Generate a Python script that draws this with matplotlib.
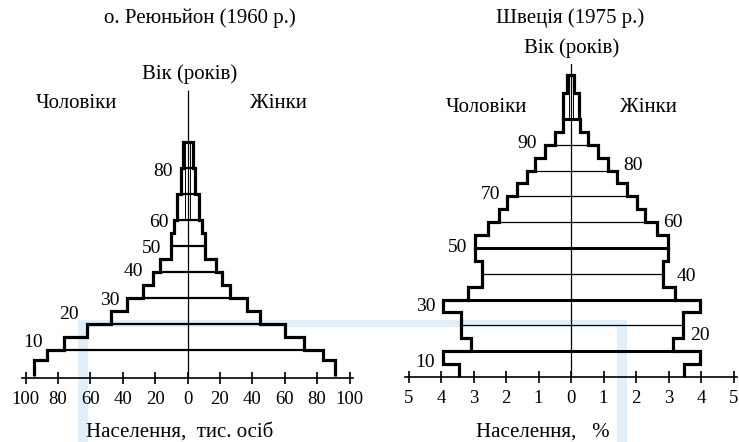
import matplotlib.pyplot as plt
import numpy as np
from matplotlib.patches import Rectangle

plt.rcParams['font.family'] = ['Liberation Serif', 'DejaVu Serif']

# o. Reunion 1960, thousands of people per age group
reu_edges = [0, 6, 10, 15, 20, 25, 30, 35, 40, 45, 50, 55, 60, 70, 80, 90]
reu_men = [95, 87, 76, 62, 47, 37.5, 27.6, 21.6, 16.8, 10.2, 10.2, 8.5, 6.4, 4.0, 3.0]
reu_women = [91, 83.5, 72, 60, 45, 36.6, 26, 21, 17.5, 11, 11, 8.8, 6.9, 4.5, 3.3]
reu_ticks = [-100, -80, -60, -40, -20, 0, 20, 40, 60, 80, 100]
reu_decades = [10, 20, 30, 40, 50, 60, 70, 80]
reu_age_labels = ['10', '20', '30', '40', '50', '60', '80']

# Sweden 1975, percent per age group
swe_edges = [0, 5, 10, 15, 20, 25, 30, 35, 40, 45, 50, 55, 60, 65, 70, 75, 80,
             85, 90, 95, 100, 110, 117]
swe_men = [3.45, 3.95, 3.08, 3.38, 3.38, 3.95, 3.17, 2.74, 2.74, 2.95, 2.95,
           2.55, 2.22, 1.97, 1.66, 1.36, 1.1, 0.8, 0.5, 0.26, 0.24, 0.13]
swe_women = [3.48, 3.97, 3.14, 3.45, 3.45, 3.97, 3.2, 2.83, 2.83, 2.98, 2.98,
             2.64, 2.28, 2.03, 1.73, 1.41, 1.15, 0.82, 0.52, 0.28, 0.24, 0.1]
swe_ticks = [-5, -4, -3, -2, -1, 0, 1, 2, 3, 4, 5]
swe_decades = [10, 20, 30, 40, 50, 60, 70, 80, 90, 100]
swe_thick = [10, 30, 50, 100]
swe_age_labels = ['10', '20', '30', '40', '50', '60', '70', '80', '90']

W, H = 739, 442
fig = plt.figure(figsize=(W / 100, H / 100), dpi=100)


def px(x, y):
    # pixel position (from top-left) -> figure fraction
    return x / W, 1 - y / H


# light blue watermark in the background
wm = '#e0eff9'
for x0, y0, w, h in [(78, 320, 549, 7), (78, 320, 10, 122), (617, 320, 10, 122)]:
    fig.patches.append(Rectangle((x0 / W, 1 - (y0 + h) / H), w / W, h / H,
                                 transform=fig.transFigure, color=wm, lw=0,
                                 zorder=-5))


def pyramid(ax, edges, men, women, decades, thick_lines, lw_line):
    edges = np.array(edges, dtype=float)
    lo, hi = edges[:-1], edges[1:]
    ys = np.column_stack([lo, hi]).ravel()
    for vals, sgn in [(men, -1), (women, 1)]:
        xs = np.repeat(np.array(vals) * sgn, 2)
        xs = np.append(xs, 0)
        yy = np.append(ys, edges[-1])
        ax.plot(xs, yy, color='black', lw=2.3, solid_joinstyle='miter',
                solid_capstyle='butt', zorder=3)
    for a in decades:
        i = list(edges).index(a)
        lw = 2.2 if a in thick_lines else lw_line
        ax.hlines(a, -men[i], women[i], color='black', lw=lw, zorder=2)


# ---- left chart
ax1 = fig.add_axes([9.3 / W, 1 / H, 356.4 / W, 351 / H])
ax1.set_xlim(-110, 110)
ax1.set_ylim(-25, 110)
pyramid(ax1, reu_edges, reu_men, reu_women, reu_decades, [], 1.6)
ax1.vlines(0, -0.7, 110, color='black', lw=0.9, zorder=2)
ax1.vlines([-1.6, 1.6], 60, 90, color='black', lw=0.7, zorder=2)
reu_label_pos = [(-89, 12.7), (-67, 23.5), (-42, 29.2), (-27.5, 40), (-16, 49),
                 (-11.4, 59), (-9, 78.6)]
for t, (x, y) in zip(reu_age_labels, reu_label_pos):
    ax1.text(x, y, t, ha='right', va='center', fontsize=14)

# ---- right chart
ax2 = fig.add_axes([395.5 / W, 0.5 / H, 342.9 / W, 378 / H])
ax2.set_xlim(-5.4, 5.15)
ax2.set_ylim(-25, 121.5)
pyramid(ax2, swe_edges, swe_men, swe_women, swe_decades, swe_thick, 0.9)
ax2.vlines(0, 0, 121.5, color='black', lw=0.9, zorder=2)
ax2.vlines([-0.07, 0.07], 100, 117, color='black', lw=0.7, zorder=2)
swe_label_pos = [(-4.18, 5.8, 'right'), (3.66, 16, 'left'), (-4.18, 27.3, 'right'),
                 (3.26, 38.8, 'left'), (-3.2, 50.2, 'right'), (2.83, 59.9, 'left'),
                 (-2.18, 70.7, 'right'), (1.6, 81.8, 'left'), (-1.05, 90.5, 'right')]
for t, (x, y, ha) in zip(swe_age_labels, swe_label_pos):
    ax2.text(x, y, t, ha=ha, va='center', fontsize=14)

# axes: only the bottom line with ticks
for ax, ticks, pos, bnd in [(ax1, reu_ticks, -0.7, (-102, 102)),
                            (ax2, swe_ticks, 0, (-5.1, 5.1))]:
    for s in ['left', 'right', 'top']:
        ax.spines[s].set_visible(False)
    ax.spines['bottom'].set_position(('data', pos))
    ax.spines['bottom'].set_bounds(*bnd)
    ax.spines['bottom'].set_linewidth(1.2)
    ax.set_yticks([])
    ax.set_xticks(ticks)
    ax.set_xticklabels([str(abs(t)) for t in ticks])
    ax.tick_params(axis='x', direction='inout', length=9, width=1.2,
                   labelsize=13.5, pad=5)
    ax.patch.set_visible(False)

# titles and captions
fs = 15
fig.text(*px(200, 18), 'о. Реюньйон (1960 р.)', ha='center', va='center', fontsize=fs)
fig.text(*px(570, 18), 'Швеція (1975 р.)', ha='center', va='center', fontsize=fs)
fig.text(*px(190, 74), 'Вік (років)', ha='center', va='center', fontsize=fs)
fig.text(*px(572, 48), 'Вік (років)', ha='center', va='center', fontsize=fs)
fig.text(*px(76, 104), 'Чоловіки', ha='center', va='center', fontsize=fs)
fig.text(*px(278, 104), 'Жінки', ha='center', va='center', fontsize=fs)
fig.text(*px(486, 107), 'Чоловіки', ha='center', va='center', fontsize=fs)
fig.text(*px(648, 107), 'Жінки', ha='center', va='center', fontsize=fs)
fig.text(*px(180, 432), 'Населення,  тис. осіб', ha='center', va='center', fontsize=fs)
fig.text(*px(543, 432), 'Населення,   %', ha='center', va='center', fontsize=fs)

fig.savefig('out.png', dpi=100)
